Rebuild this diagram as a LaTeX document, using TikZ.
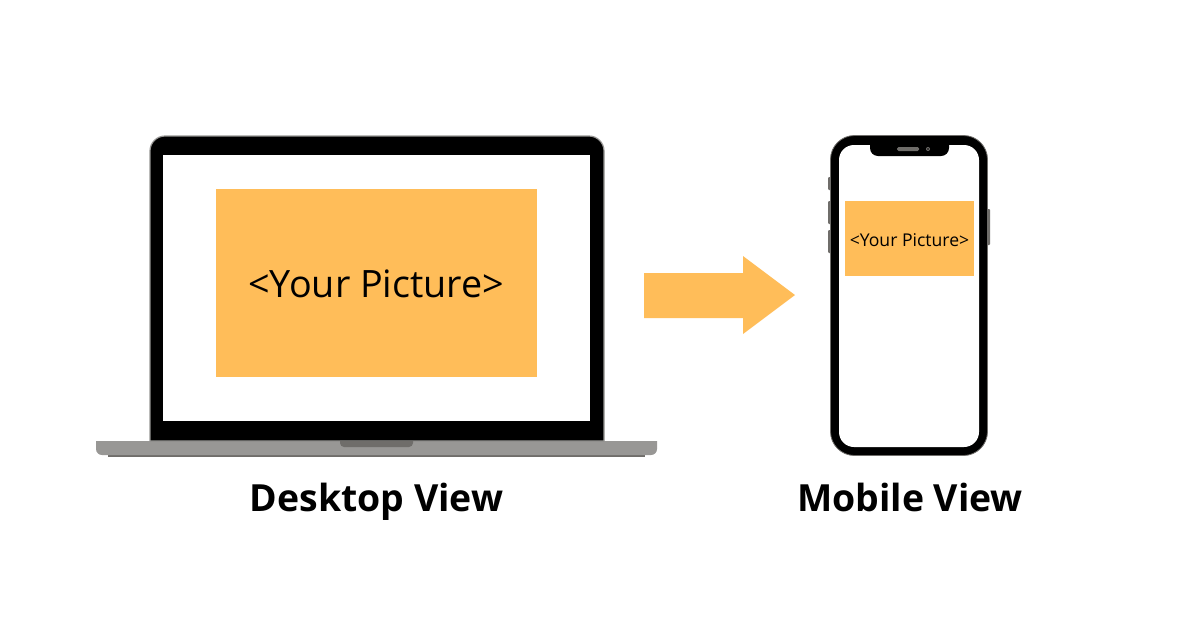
\documentclass[tikz,border=0pt]{standalone}
\usepackage{fontspec}
\setmainfont{Open Sans}
\definecolor{pic}{HTML}{FFBD59}
\definecolor{basegray}{HTML}{989795}
\definecolor{darkgray}{HTML}{6F6D6A}
\tikzset{x=1pt,y=-1pt,
  pictext/.style={text=black,inner sep=0pt,anchor=center},
  captiontext/.style={text=black,inner sep=0pt,anchor=base,font=\bfseries\fontsize{37.4}{40}\selectfont},
  gray part/.style={fill=darkgray,draw=none},
}
\begin{document}
\begin{tikzpicture}
\useasboundingbox (0,0) rectangle (1200,630);
\fill[white] (0,0) rectangle (1200,630);
% laptop
\fill[gray part] (108,454) rectangle (645,457);
\fill[basegray] (96,441) -- (657,441) -- (657,449) arc[start angle=0,end angle=90,radius=6] -- (102,455) arc[start angle=90,end angle=180,radius=6] -- cycle;
\fill[black,draw=basegray,line width=1.2pt] (150,441) -- (150,151) arc[start angle=180,end angle=270,radius=15] -- (589,136) arc[start angle=270,end angle=360,radius=15] -- (604,441) -- cycle;
\fill[white] (163,154.5) rectangle (590,421);
\fill[gray part] (340,441) -- (413,441) -- (413,443) arc[start angle=0,end angle=90,radius=4] -- (344,447) arc[start angle=90,end angle=180,radius=4] -- cycle;
\node[fill=pic,minimum width=321pt,minimum height=188pt,inner sep=0pt] (bigpic) at (376.5,283) {};
\node[pictext,font=\fontsize{37.7}{40}\selectfont] (bigtext) at (376.3,284) {<Your Picture>};
% arrow
\fill[pic] (644,273) -- (743,273) -- (743,256) -- (795,295) -- (743,334) -- (743,318) -- (644,318) -- cycle;
% phone buttons
\fill[gray part,rounded corners=1pt] (828,177) rectangle (832,190);
\fill[gray part,rounded corners=1pt] (828,201) rectangle (832,224);
\fill[gray part,rounded corners=1pt] (828,230) rectangle (832,253);
\fill[gray part,rounded corners=1pt] (986,209) rectangle (990,245);
% phone
\fill[black,draw=darkgray,line width=.8pt,rounded corners=24pt] (830.5,135.5) rectangle (987.5,455.5);
\fill[white,rounded corners=15pt] (839,145) rectangle (979,447);
\fill[black] (870,145) -- (949,145) -- (949,148) arc[start angle=0,end angle=90,radius=8] -- (878,156) arc[start angle=90,end angle=180,radius=8] -- cycle;
\fill[darkgray,rounded corners=1.5pt] (897,147) rectangle (919,151);
\fill[darkgray] (928,149) circle[radius=2];
\fill[black] (928,149) circle[radius=.8];
\node[fill=pic,minimum width=129pt,minimum height=75pt,inner sep=0pt] (smallpic) at (909.5,238.5) {};
\node[pictext,font=\fontsize{17.6}{20}\selectfont] (smalltext) at (909.5,240) {<Your Picture>};
% captions
\node[captiontext] (desk) at (376.5,511) {Desktop View};
\node[captiontext] (mob) at (910,511) {Mobile View};
\end{tikzpicture}
\end{document}
